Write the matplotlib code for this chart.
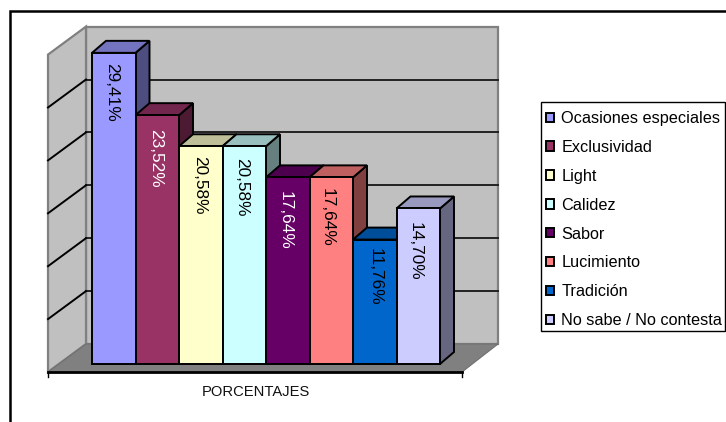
import numpy as np
import matplotlib
matplotlib.use('Agg')
import matplotlib.pyplot as plt
from matplotlib.colors import to_rgb
from matplotlib.patches import Polygon, Rectangle

plt.rcParams['font.family'] = ['Liberation Sans', 'DejaVu Sans']

# ── Data ──────────────────────────────────────────────────────────────────────
categories = ['Ocasiones especiales', 'Exclusividad', 'Light', 'Calidez',
              'Sabor', 'Lucimiento', 'Tradición', 'No sabe / No contesta']
values = [29.41, 23.52, 20.58, 20.58, 17.64, 17.64, 11.76, 14.70]
value_labels = ['29,41%', '23,52%', '20,58%', '20,58%',
                '17,64%', '17,64%', '11,76%', '14,70%']
colors = ['#9999FF', '#993366', '#FFFFCC', '#CCFFFF',
          '#660066', '#FF8080', '#0066CC', '#CCCCFF']
label_colors = ['black', 'white', 'black', 'black', 'white', 'black', 'black', 'black']
axis_ticks = [5, 10, 15, 20, 25]
axis_top = 30

# ── Layout: x unit = one bar, y unit = one percent ────────────────────────────
W, H = 726, 422
X0, PX_X = 113.75, 43.5      # pixel of bar 0 centre, pixels per bar
Y0, PX_Y = 364, 10.58        # pixel of value 0, pixels per percent
BAR_DX, BAR_DY = 14 / PX_X, 12 / PX_Y
WALL_L, WALL_R = (86 - X0) / PX_X, (498 - X0) / PX_X
FRONT_L, FRONT_R = (48 - X0) / PX_X, (462 - X0) / PX_X
WALL_B, FRONT_B = (Y0 - 344) / PX_Y, (Y0 - 372) / PX_Y
# hand placement of the rotated labels, in pixels from bar centre / bar top
label_dx = [-2.2, -1.8, -1.2, -2.8, -2.2, -3.8, 0.8, -2.8]
label_dy = [10.6, 14, 10, 12, 14, 11, 8, 14]

def shade(c, f):
    return tuple(v * f for v in to_rgb(c))

def px(x, y):
    return (x - X0) / PX_X, (Y0 - y) / PX_Y

fig = plt.figure(figsize=(W / 100, H / 100), dpi=100)
ax = fig.add_axes([0, 0, 1, 1])
ax.set_xlim(-X0 / PX_X, (W - X0) / PX_X)
ax.set_ylim((Y0 - H) / PX_Y, Y0 / PX_Y)
ax.axis('off')

# outer frame (top and left edges)
ax.plot(*zip(px(10, H), px(10, 10.5), px(W, 10.5)), color='black', lw=1.8,
        solid_joinstyle='miter', zorder=1)

# walls and floor
wall_top = WALL_B + axis_top
ax.add_patch(Polygon([(WALL_L, WALL_B), (WALL_R, WALL_B), (WALL_R, wall_top), (WALL_L, wall_top)],
                     fc='#C0C0C0', ec='#808080', lw=1.6, zorder=2))
ax.add_patch(Polygon([(FRONT_L, FRONT_B), (WALL_L, WALL_B), (WALL_L, wall_top), (FRONT_L, FRONT_B + axis_top)],
                     fc='#C0C0C0', ec='#808080', lw=1.6, zorder=2))
ax.add_patch(Polygon([(FRONT_L, FRONT_B), (WALL_L, WALL_B), (WALL_R, WALL_B), (FRONT_R, FRONT_B)],
                     fc='#808080', ec='#707070', lw=0.8, zorder=3))
for t in axis_ticks:
    ax.plot([WALL_L, WALL_R], [WALL_B + t, WALL_B + t], color='#222222', lw=1.4, zorder=3)
    ax.plot([FRONT_L, WALL_L], [FRONT_B + t, WALL_B + t], color='black', lw=1.4, zorder=3)

# category axis
tick_len = 5 / PX_Y
ax.plot([FRONT_L, FRONT_R], [FRONT_B, FRONT_B], color='black', lw=2.0, zorder=4)
for fx in (FRONT_L, FRONT_R):
    ax.plot([fx, fx], [FRONT_B, FRONT_B - tick_len], color='black', lw=1.0, zorder=4)
ax.text(*px(256, 391.5), 'PORCENTAJES', ha='center', va='center',
        fontsize=10.6, color='#111111', zorder=4)

# bars, left to right so each one covers the side of the previous one
for i, (v, c) in enumerate(zip(values, colors)):
    z = 5 + i
    l, r = i - 0.5, i + 0.5
    ax.add_patch(Polygon([(r, 0), (r + BAR_DX, BAR_DY), (r + BAR_DX, v + BAR_DY), (r, v)],
                         fc=shade(c, 0.5), ec='black', lw=1.4, joinstyle='miter', zorder=z))
    ax.add_patch(Polygon([(l, v), (l + BAR_DX, v + BAR_DY), (r + BAR_DX, v + BAR_DY), (r, v)],
                         fc=shade(c, 0.75), ec='black', lw=1.4, joinstyle='miter', zorder=z))
    ax.bar(i, v, width=1.0, color=c, edgecolor='black', linewidth=1.4, zorder=z)
    ax.text(i + label_dx[i] / PX_X, v - label_dy[i] / PX_Y, value_labels[i], rotation=-90,
            ha='center', va='top', fontsize=12.4, color=label_colors[i], zorder=z + 0.5)

# legend box drawn apart so the row padding can differ from the side padding
ax.add_patch(Rectangle(px(540.5, 331), 184.5 / PX_X, 229 / PX_Y, fc='white', ec='black',
                       lw=1.0, zorder=19))
handles = [Rectangle((0, 0), 1, 1, fc=c, ec='black', lw=1.4) for c in colors]
leg = ax.legend(handles, categories, loc='upper left', ncol=1,
                bbox_to_anchor=(546 / W, 1 - 111 / H), bbox_transform=fig.transFigure,
                fontsize=11.7, frameon=False, borderaxespad=0, borderpad=0,
                labelspacing=0.855, handlelength=0.5, handleheight=0.5, handletextpad=0.45)
leg.set_zorder(20)

fig.savefig('out.png', dpi=100)
plt.close(fig)
